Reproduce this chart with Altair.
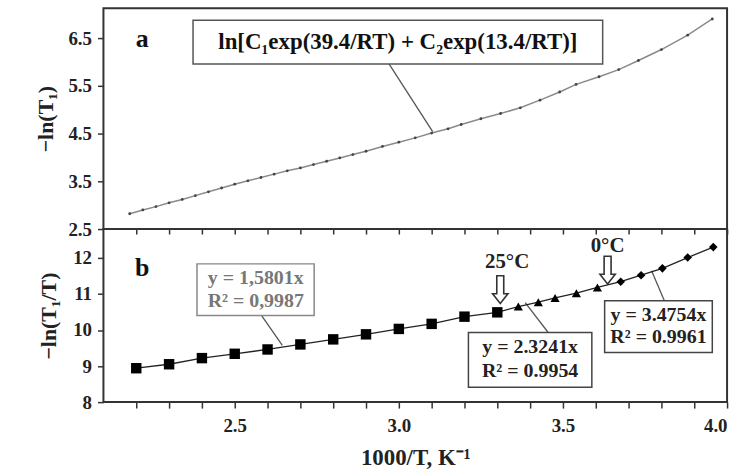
import altair as alt
import pandas as pd

# ---------------- data ----------------
# panel a : -ln(T1) vs 1000/T
a_x = [2.18, 2.22, 2.26, 2.30, 2.34, 2.38, 2.42, 2.46, 2.50, 2.54, 2.58, 2.62,
       2.66, 2.70, 2.74, 2.78, 2.82, 2.86, 2.90, 2.95, 3.00, 3.05, 3.10, 3.15,
       3.19, 3.25, 3.31, 3.37, 3.43, 3.49, 3.54, 3.61, 3.67, 3.73, 3.80, 3.88, 3.955]
a_y = [2.82, 2.90, 2.97, 3.05, 3.12, 3.20, 3.28, 3.36, 3.44, 3.51, 3.58, 3.65,
       3.72, 3.78, 3.85, 3.92, 3.99, 4.06, 4.13, 4.23, 4.32, 4.41, 4.51, 4.60,
       4.69, 4.81, 4.92, 5.04, 5.20, 5.37, 5.53, 5.69, 5.84, 6.03, 6.26, 6.56, 6.90]

# panel b : -ln(T1/T) vs 1000/T
sq_x = [2.2, 2.3, 2.4, 2.5, 2.6, 2.7, 2.8, 2.9, 3.0, 3.1, 3.2, 3.3]
sq_y = [8.94, 9.05, 9.22, 9.34, 9.46, 9.60, 9.74, 9.88, 10.03, 10.17, 10.37, 10.49]
tri_x = [3.364, 3.425, 3.476, 3.541, 3.605]
tri_y = [10.65, 10.77, 10.89, 11.02, 11.18]
dia_x = [3.676, 3.738, 3.803, 3.880, 3.958]
dia_y = [11.34, 11.52, 11.71, 12.01, 12.30]

x_ticks = [2.2, 2.3, 2.4, 2.5, 2.6, 2.7, 2.8, 2.9, 3.0, 3.1, 3.2, 3.3, 3.4, 3.5,
           3.6, 3.7, 3.8, 3.9, 4.0]
ya_ticks = [2.5, 3.5, 4.5, 5.5, 6.5]
yb_ticks = [8, 9, 10, 11, 12]

formula = "ln[C\u2081exp(39.4/RT) + C\u2082exp(13.4/RT)]"
fit_labels = [["y = 1,5801x", "R\u00b2 = 0,9987"],
              ["y = 2.3241x", "R\u00b2 = 0.9954"],
              ["y = 3.4754x", "R\u00b2 = 0.9961"]]

# ---------------- styling ----------------
SERIF = "Liberation Serif"
XS = alt.Scale(domain=[2.1, 4.0], nice=False, zero=False)
YA = alt.Scale(domain=[2.5, 7.125], nice=False, zero=False)
YB = alt.Scale(domain=[8, 12.8], nice=False, zero=False)
ARROW = "M -0.25 -1 L 0.25 -1 L 0.25 0.3 L 0.55 0.3 L 0 1 L -0.55 0.3 L -0.25 0.3 Z"

def x_axis(labels):
    if labels:
        return alt.Axis(values=x_ticks, title="1000/T, K\u207b\u00b9",
                        labelExpr="abs(round(datum.value*10) % 5) == 0 ? format(datum.value, '.1f') : ''",
                        tickSize=6, labelPadding=9, titlePadding=11, titleFontSize=23, grid=False)
    return alt.Axis(values=x_ticks, labels=False, title=None, tickSize=5, grid=False)

a_df = pd.DataFrame({"x": a_x, "y": a_y})
b_df = pd.DataFrame({"x": sq_x + tri_x + dia_x, "y": sq_y + tri_y + dia_y,
                     "g": ["sq"] * len(sq_x) + ["tri"] * len(tri_x) + ["dia"] * len(dia_x)})

# ---------------- panel a ----------------
XA = alt.X("x:Q", scale=XS, axis=x_axis(False))
YAe = alt.Y("y:Q", scale=YA, axis=alt.Axis(values=ya_ticks, format=".1f", title="\u2212ln(T\u2081)",
                                          tickSize=6, labelPadding=6, titlePadding=10, grid=False))

a_line = alt.Chart(a_df).mark_line(color="#8a8a8a", strokeWidth=1.5).encode(x=XA, y=YAe)
a_pts = alt.Chart(a_df).mark_point(filled=True, color="#444", size=8, opacity=1).encode(x=XA, y=YAe)

a_box = alt.Chart(pd.DataFrame({"x": [2.373], "x2": [3.621], "y": [6.875], "y2": [5.958]})).mark_rect(
    fill="white", stroke="#555", strokeWidth=1.5).encode(x=XA, x2="x2:Q", y=YAe, y2="y2:Q")
a_lead = alt.Chart(pd.DataFrame({"x": [2.97], "x2": [3.103], "y": [5.958], "y2": [4.54]})).mark_rule(
    color="#555", strokeWidth=1.3).encode(x=XA, x2="x2:Q", y=YAe, y2="y2:Q")
a_txt = alt.Chart(pd.DataFrame({"x": [2.997], "y": [6.417], "t": [formula]})).mark_text(
    font=SERIF, fontWeight="bold", fontSize=23, color="#111").encode(x=XA, y=YAe, text="t:N")
a_lab = alt.Chart(pd.DataFrame({"x": [2.218], "y": [6.47], "t": ["a"]})).mark_text(
    font=SERIF, fontWeight="bold", fontSize=26, color="#111").encode(x=XA, y=YAe, text="t:N")

top = alt.layer(a_lead, a_line, a_pts, a_box, a_txt, a_lab).properties(width=627, height=222)

# ---------------- panel b ----------------
XB = alt.X("x:Q", scale=XS, axis=x_axis(True))
YBe = alt.Y("y:Q", scale=YB, axis=alt.Axis(values=yb_ticks, title="\u2212ln(T\u2081/T)",
                                          tickSize=6, labelPadding=6, titlePadding=12, grid=False))

b_line = alt.Chart(b_df).mark_line(color="#222", strokeWidth=1.3).encode(x=XB, y=YBe)
b_sq = alt.Chart(b_df).transform_filter("datum.g == 'sq'").mark_point(
    shape="square", filled=True, color="#000", size=110, opacity=1).encode(x=XB, y=YBe)
b_tri = alt.Chart(b_df).transform_filter("datum.g == 'tri'").mark_point(
    shape="triangle-up", filled=True, color="#000", size=85, opacity=1).encode(x=XB, y=YBe)
b_dia = alt.Chart(b_df).transform_filter("datum.g == 'dia'").mark_point(
    shape="diamond", filled=True, color="#000", size=75, opacity=1).encode(x=XB, y=YBe)

boxes = pd.DataFrame({"x": [2.385, 3.212, 3.627], "x2": [2.742, 3.588, 3.955],
                      "y": [11.834, 9.931, 10.814], "y2": [10.40, 8.414, 9.379],
                      "c": ["#888", "#444", "#444"]})
b_box = alt.Chart(boxes).mark_rect(fill="white", strokeWidth=1.5).encode(
    x=XB, x2="x2:Q", y=YBe, y2="y2:Q", stroke=alt.Stroke("c:N", scale=None))
leads = pd.DataFrame({"x": [2.582, 3.455, 3.809], "x2": [2.645, 3.385, 3.770],
                      "y": [10.40, 9.931, 10.814], "y2": [9.572, 10.759, 11.641]})
b_lead = alt.Chart(leads).mark_rule(color="#555", strokeWidth=1.3).encode(
    x=XB, x2="x2:Q", y=YBe, y2="y2:Q")
txts = pd.DataFrame({
    "x": [2.564, 2.564, 3.40, 3.40, 3.791, 3.791],
    "y": [11.448, 10.814, 9.517, 8.855, 10.428, 9.793],
    "t": [fit_labels[0][0], fit_labels[0][1], fit_labels[1][0], fit_labels[1][1],
          fit_labels[2][0], fit_labels[2][1]],
    "c": ["#777", "#777", "#222", "#222", "#222", "#222"]})
b_txt = alt.Chart(txts).mark_text(font=SERIF, fontWeight="bold", fontSize=20).encode(
    x=XB, y=YBe, text="t:N", color=alt.Color("c:N", scale=None))
temps = pd.DataFrame({"x": [3.33, 3.636], "y": [11.88, 12.33], "t": ["25\u00b0C", "0\u00b0C"]})
b_temp = alt.Chart(temps).mark_text(font=SERIF, fontWeight="bold", fontSize=21, color="#222").encode(
    x=XB, y=YBe, text="t:N")
arrows = pd.DataFrame({"x": [3.309, 3.636], "y": [11.12, 11.66]})
b_arr = alt.Chart(arrows).mark_point(shape=ARROW, size=784, filled=True, fill="white",
                                     stroke="#333", strokeWidth=1.6, opacity=1).encode(x=XB, y=YBe)
b_lab = alt.Chart(pd.DataFrame({"x": [2.218], "y": [11.72], "t": ["b"]})).mark_text(
    font=SERIF, fontWeight="bold", fontSize=26, color="#111").encode(x=XB, y=YBe, text="t:N")

bottom = alt.layer(b_lead, b_line, b_sq, b_tri, b_dia, b_box, b_txt, b_temp, b_arr, b_lab).properties(
    width=627, height=174)

chart = alt.vconcat(top, bottom, spacing=0, bounds="flush").properties(
    padding={"left": 34, "top": 6, "right": 10, "bottom": 4}
).configure_view(
    stroke="#333", strokeWidth=2
).configure_axis(
    labelFont=SERIF, labelFontWeight="bold", labelFontSize=19, labelColor="#222",
    titleFont=SERIF, titleFontWeight="bold", titleFontSize=22, titleColor="#222",
    tickColor="#333", tickWidth=1.5, domain=False
)

chart.save("out.html", embed_options={"renderer": "svg", "actions": False})
